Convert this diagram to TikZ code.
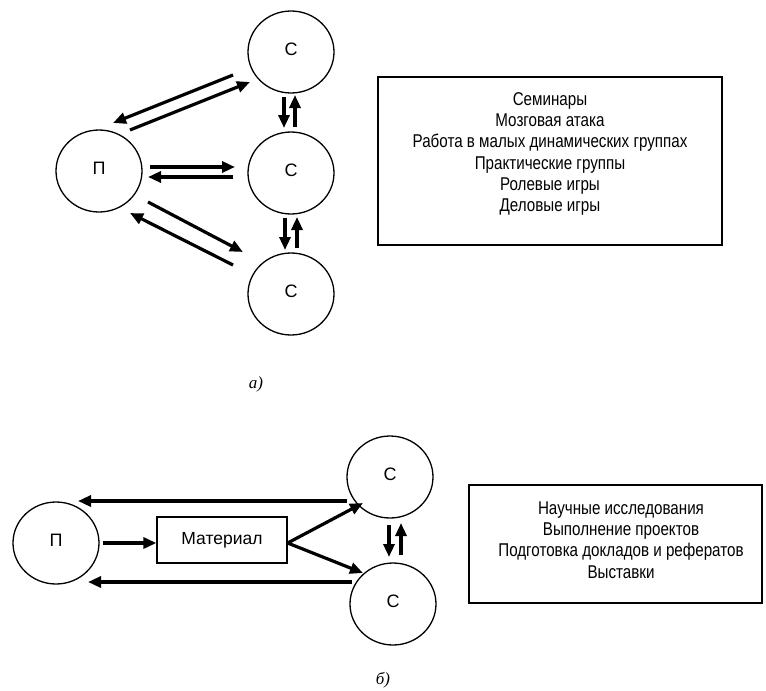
\documentclass[tikz,border=0pt]{standalone}
\usepackage{fontspec}
\setmainfont{Liberation Sans}
\newfontfamily\narrowfont[FakeStretch=0.82]{Liberation Sans}
\newfontfamily\capfont{Liberation Serif}
\usetikzlibrary{arrows.meta,shapes.geometric}
\begin{document}
\begin{tikzpicture}[x=1pt,y=-1pt,
  pers/.style={draw, ellipse, line width=1.3pt, minimum width=86pt, minimum height=82pt, inner sep=0pt, font=\fontsize{18}{18}\selectfont},
  arr/.style={line width=3.2pt, -{Triangle[length=13pt,width=11pt]}},
  listbox/.style={draw, line width=1.3pt, inner sep=0pt},
  listtext/.style={align=center, inner sep=0pt, font=\narrowfont\fontsize{18.5}{21.2}\selectfont},
  figcap/.style={font=\capfont\itshape\fontsize{17}{17}\selectfont}]
\useasboundingbox (0,0) rectangle (766,691);

% ---- a) ----
\node[pers] (P1) at (99,171) {\raisebox{5pt}{П}};
\node[pers] (C1) at (291,52) {\raisebox{5pt}{С}};
\node[pers] (C2) at (291,173) {\raisebox{5pt}{С}};
\node[pers] (C3) at (291,294) {\raisebox{5pt}{С}};

\draw[arr] ([shift={(-58,23)}]C1.center) -- ([shift={(14,-48)}]P1.center);
\draw[arr] ([shift={(31,-41)}]P1.center) -- ([shift={(-41,30)}]C1.center);
\draw[arr] ([shift={(51,-4)}]P1.center) -- ([shift={(-56,-6)}]C2.center);
\draw[arr] ([shift={(-58,4)}]C2.center) -- ([shift={(49,6)}]P1.center);
\draw[arr] ([shift={(49,31)}]P1.center) -- ([shift={(-48,-42)}]C3.center);
\draw[arr] ([shift={(-58,-29)}]C3.center) -- ([shift={(31,42)}]P1.center);
\draw[arr] ([shift={(-7,45)}]C1.center) -- ([shift={(-7,-45)}]C2.center);
\draw[arr] ([shift={(4,-46)}]C2.center) -- ([shift={(4,43)}]C1.center);
\draw[arr] ([shift={(-6,45)}]C2.center) -- ([shift={(-6,-44)}]C3.center);
\draw[arr] ([shift={(6,-46)}]C3.center) -- ([shift={(6,44)}]C2.center);

\node[listbox, minimum width=344pt, minimum height=168pt] (B1) at (550,161) {};
\node[listtext] (L1) at (550,154) {Семинары\\Мозговая атака\\Работа в малых динамических группах\\Практические группы\\Ролевые игры\\Деловые игры};

\node[figcap] (capA) at (256,384) {а)};

% ---- b) ----
\node[pers] (P2) at (56,543) {\raisebox{5pt}{П}};
\node[pers] (C4) at (390,477) {\raisebox{5pt}{С}};
\node[pers] (C5) at (393,604) {\raisebox{5pt}{С}};
\node[listbox, minimum width=130pt, minimum height=46pt, font=\fontsize{17.5}{17.5}\selectfont] (M) at (222,540) {Материал};

\draw[arr] ([shift={(-43,24)}]C4.center) -- ([shift={(22,-42)}]P2.center);
\draw[arr] ([shift={(-41,-22)}]C5.center) -- ([shift={(32,39)}]P2.center);
\draw[arr] ([shift={(47,0)}]P2.center) -- ([shift={(0,3)}]M.west);
\draw[arr] ([shift={(0,3)}]M.east) -- ([shift={(-27,26)}]C4.center);
\draw[arr] ([shift={(0,3)}]M.east) -- ([shift={(-30,-31)}]C5.center);
\draw[arr] ([shift={(-1,48)}]C4.center) -- ([shift={(-4,-47)}]C5.center);
\draw[arr] ([shift={(8,-49)}]C5.center) -- ([shift={(11,46)}]C4.center);

\node[listbox, minimum width=293pt, minimum height=118pt] (B2) at (615.5,544) {};
\node[listtext] (L2) at (621,540) {Научные исследования\\Выполнение проектов\\Подготовка докладов и рефератов\\Выставки};

\node[figcap] (capB) at (383,680) {б)};
\end{tikzpicture}
\end{document}
